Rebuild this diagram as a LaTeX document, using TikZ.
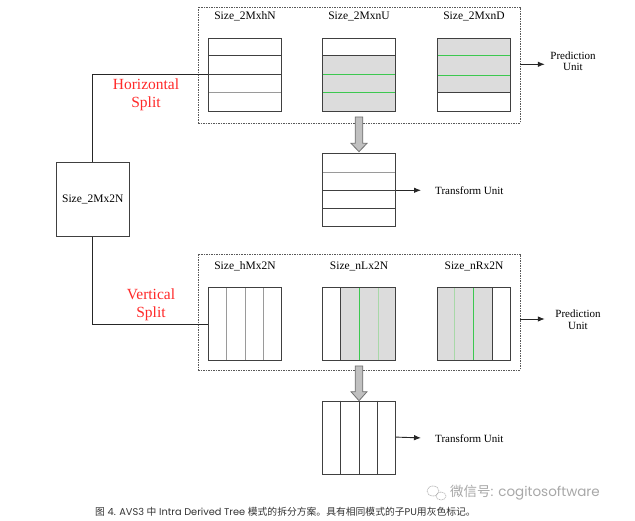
\documentclass[tikz,border=0pt]{standalone}
\usepackage{fontspec}
\setmainfont{Liberation Serif}
\newfontfamily\capfont{Poppins}
\newfontfamily\cjk{Noto Sans CJK SC}
\usetikzlibrary{arrows.meta,backgrounds}
\definecolor{puGray}{HTML}{DCDCDC}
\definecolor{lineGreen}{HTML}{3CC850}
\definecolor{paleGreen}{HTML}{A8D8A8}
\definecolor{splitRed}{HTML}{FF2A2A}
\definecolor{boxEdge}{HTML}{404040}
\definecolor{softEdge}{HTML}{9A9A9A}
\definecolor{arrowFill}{HTML}{C0C0C0}
\definecolor{arrowEdge}{HTML}{707070}
\definecolor{capText}{HTML}{333333}
\definecolor{markGray}{HTML}{A8A8A8}
\begin{document}
\begin{tikzpicture}[x=1pt,y=-1pt,
  cu/.style={draw=boxEdge,line width=0.9pt,minimum width=73pt,minimum height=73pt,inner sep=0pt},
  frame/.style={draw=black!65,dash pattern=on 1.5pt off 1pt,line width=0.6pt,inner sep=0pt,minimum width=322pt,minimum height=116pt},
  lbl/.style={font=\fontsize{11.5}{12}\selectfont,inner sep=1pt},
  redlbl/.style={text=splitRed,font=\fontsize{15.5}{18}\selectfont,align=center,inner sep=0pt},
  unitlbl/.style={font=\fontsize{11}{11.5}\selectfont,align=center,inner sep=2pt},
  conn/.style={draw=black!85,line width=0.9pt},
  arr/.style={conn,-{Latex[length=7pt,width=5.5pt]}},
  darkln/.style={draw=boxEdge,line width=0.9pt},
  softln/.style={draw=softEdge,line width=0.9pt},
  greenln/.style={draw=lineGreen,line width=0.9pt},
  paleln/.style={draw=paleGreen,line width=0.9pt},
  bigarrow/.style={fill=arrowFill,draw=arrowEdge,line width=0.8pt}
]
\useasboundingbox (0,0) rectangle (635,521);
\begin{pgfonlayer}{background}
  \fill[white] (0,0) rectangle (635,521);
\end{pgfonlayer}

% frames
\node[frame] (dtop) at (359,65) {};
\node[frame] (dbot) at (359,312) {};

% root CU
\node[cu,minimum height=74pt] (root) at (92.8,199.2) {};
\node[lbl] (rootlbl) at (92.8,199.2) {Size\_2Mx2N};

% horizontal split boxes
\node[cu] (h1) at (245,74.5) {};
\node[cu] (h2) at (359,74.5) {};
\node[cu] (h3) at (474,74.5) {};
\node[lbl] (h1l) at (245,16) {Size\_2MxhN};
\node[lbl] (h2l) at (359,16) {Size\_2MxnU};
\node[lbl] (h3l) at (474,16) {Size\_2MxnD};
\node[cu] (t1) at (359,190.3) {};

% vertical split boxes
\node[cu] (v1) at (245,324.2) {};
\node[cu] (v2) at (359,324.2) {};
\node[cu] (v3) at (474,324.2) {};
\node[lbl] (v1l) at (245,266.7) {Size\_hMx2N};
\node[lbl] (v2l) at (359,266.7) {Size\_nLx2N};
\node[lbl] (v3l) at (474,266.7) {Size\_nRx2N};
\node[cu] (t2) at (359,437.7) {};

\begin{pgfonlayer}{background}
  \begin{scope}[shift={(h1.north west)}]
    \draw[darkln] (0,18.25) -- (73,18.25);
    \draw[darkln] (0,36.5) -- (73,36.5);
    \draw[softln] (0,54.75) -- (73,54.75);
  \end{scope}
  \begin{scope}[shift={(h2.north west)}]
    \fill[puGray] (0,18.25) rectangle (73,73);
    \draw[darkln] (0,18.25) -- (73,18.25);
    \draw[greenln] (0,37) -- (73,37);
    \draw[greenln] (0,55.3) -- (73,55.3);
  \end{scope}
  \begin{scope}[shift={(h3.north west)}]
    \fill[puGray] (0,0) rectangle (73,55.3);
    \draw[greenln] (0,18.25) -- (73,18.25);
    \draw[greenln] (0,38) -- (73,38);
    \draw[darkln] (0,55.3) -- (73,55.3);
  \end{scope}
  \begin{scope}[shift={(t1.north west)}]
    \draw[softln] (0,19) -- (73,19);
    \draw[darkln] (0,37) -- (73,37);
    \draw[darkln] (0,55) -- (73,55);
  \end{scope}
  \begin{scope}[shift={(v1.north west)}]
    \draw[softln] (18.3,0) -- (18.3,73);
    \draw[softln] (37,0) -- (37,73);
    \draw[softln] (55.3,0) -- (55.3,73);
  \end{scope}
  \begin{scope}[shift={(v2.north west)}]
    \fill[puGray] (18.3,0) rectangle (73,73);
    \draw[darkln] (18.3,0) -- (18.3,73);
    \draw[greenln] (37,0) -- (37,73);
    \draw[paleln] (56.7,0) -- (56.7,73);
  \end{scope}
  \begin{scope}[shift={(v3.north west)}]
    \fill[puGray] (0,0) rectangle (55,73);
    \draw[paleln] (17,0) -- (17,73);
    \draw[greenln] (36.4,0) -- (36.4,73);
    \draw[darkln] (55,0) -- (55,73);
  \end{scope}
  \begin{scope}[shift={(t2.north west)}]
    \draw[darkln] (18.4,0) -- (18.4,73);
    \draw[darkln] (37,0) -- (37,73);
    \draw[darkln] (55.4,0) -- (55.4,73);
  \end{scope}
\end{pgfonlayer}

% split labels
\node[redlbl] (hsplit) at (146,95) {Horizontal\\Split};
\node[redlbl] (vsplit) at (151,305) {Vertical\\Split};

% connectors from root
\draw[conn] (root.north) |- (h1.west);
\draw[conn] (root.south) |- (v1.west);

% big gray arrows
\draw[bigarrow] (355.2,117) -- (355.2,143.3) -- (351,143.3) -- (359,151.7) -- (367,143.3) -- (362.8,143.3) -- (362.8,117) -- cycle;
\draw[bigarrow] (355.2,366) -- (355.2,391.7) -- (351,391.7) -- (359,400.7) -- (367,391.7) -- (362.8,391.7) -- (362.8,366) -- cycle;

% transform unit labels
\node[unitlbl,anchor=west] (tu1) at (433,190.3) {Transform Unit};
\node[unitlbl,anchor=west] (tu2) at (433,438.3) {Transform Unit};
\draw[arr,shorten >=12pt] (t1.east) -- (tu1.west);
\draw[arr,shorten >=12pt] ([yshift=0.6pt]t2.east) -- (tu2.west);

% prediction unit labels
\node[unitlbl] (pu1) at (573,61) {Prediction\\Unit};
\node[unitlbl] (pu2) at (578,319.5) {Prediction\\Unit};
\coordinate (ps1) at ([yshift=0.7pt]dtop.east);
\coordinate (ps2) at ([yshift=-7pt]dbot.east);
\draw[arr,shorten >=3.4pt] (ps1) -- (ps1 -| pu1.west);
\draw[arr,shorten >=8.4pt] (ps2) -- (ps2 -| pu2.west);

% caption
\node[anchor=west,inner sep=0pt,text=capText,font=\capfont\fontsize{9.8}{11}\selectfont] (cap) at (95,512)
  {{\cjk 图} 4. AVS3 {\cjk 中} Intra Derived Tree {\cjk 模式的拆分方案。具有相同模式的子}PU{\cjk 用灰色标记。}};

% watermark
\node[anchor=west,inner sep=0pt,text=markGray,font=\capfont\fontsize{13.5}{14}\selectfont] (wm) at (450,493)
  {{\cjk 微信号}: cogitosoftware};
\draw[markGray,line width=0.6pt,dash pattern=on 1pt off 0.7pt] (433,491) ellipse (6pt and 5pt);
\draw[markGray,line width=0.6pt,dash pattern=on 1pt off 0.7pt] (441,496) ellipse (5pt and 4pt);
\end{tikzpicture}
\end{document}
